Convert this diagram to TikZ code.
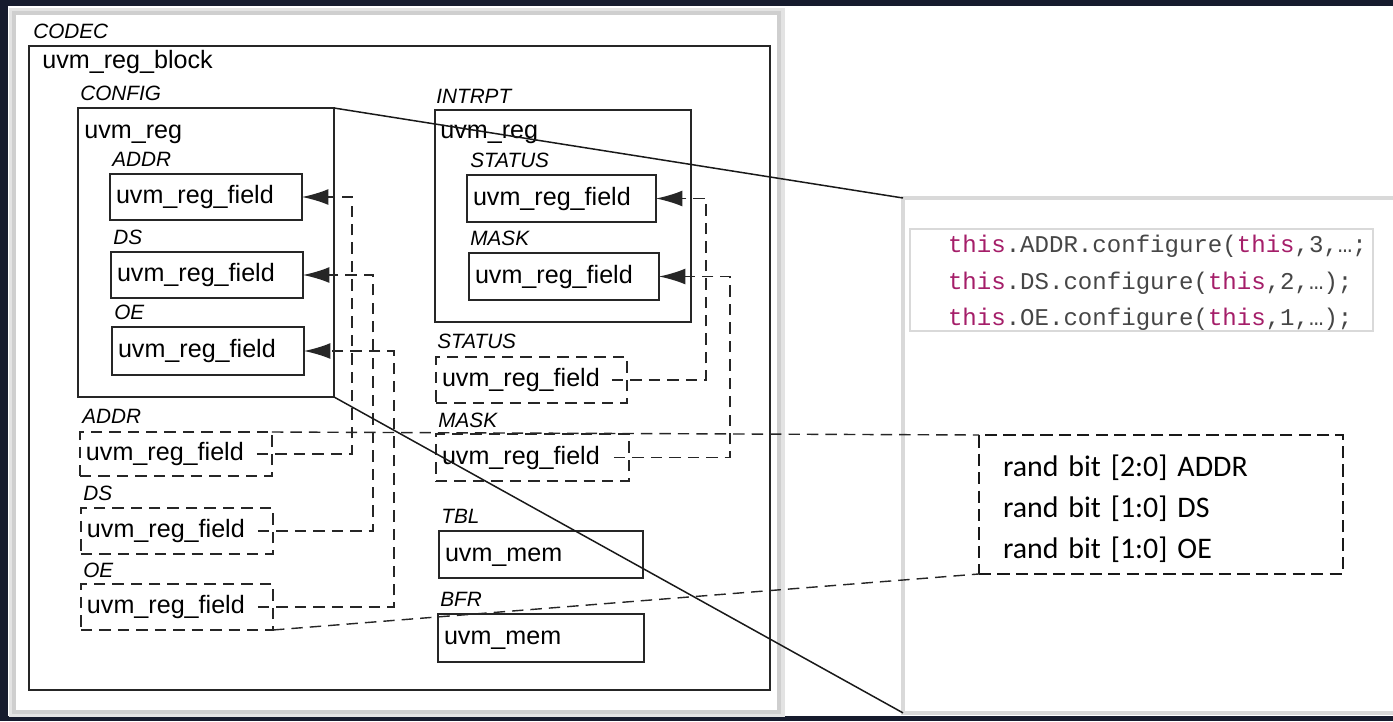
\documentclass[tikz,border=0pt]{standalone}
\usepackage{fontspec}
\setmainfont{Liberation Sans}
\newfontfamily\codefont{Liberation Mono}
\newfontfamily\randfont{Carlito}
\usetikzlibrary{arrows.meta,positioning}

\definecolor{slidebg}{RGB}{22,27,45}
\definecolor{kwpink}{RGB}{165,30,105}
\definecolor{codegray}{RGB}{70,70,70}

\newcommand\boxfont{\fontsize{14.3}{17}\selectfont}
\newcommand\tagfont{\fontsize{11.8}{14}\selectfont\itshape}

\tikzset{
  cont/.style={draw=black!85, line width=0.75pt, anchor=north west, inner sep=0pt, outer sep=0pt},
  box/.style={draw=black!85, line width=0.75pt, anchor=north west, inner xsep=0.12cm, inner ysep=0pt,
    outer sep=0pt, align=left, font=\boxfont, text height=10.5pt, text depth=3pt},
  fld/.style={box, text width=3.60cm, minimum height=0.92cm},
  dfld/.style={fld, dash pattern=on 6.5pt off 4pt},
  mem/.style={box, text width=3.88cm, minimum height=0.94cm},
  tag/.style={anchor=base west, inner sep=0pt, font=\tagfont},
  typename/.style={anchor=base west, inner sep=0pt, font=\boxfont},
  conn/.style={draw=black!85, line width=0.8pt, dash pattern=on 6.5pt off 4pt},
  tip/.style={-{Latex[length=15pt, width=9pt]}},
  link/.style={draw=black!90, line width=0.85pt},
  panel/.style={fill=white, draw=gray!30, line width=0.08cm, anchor=north west, inner sep=0pt, outer sep=0pt}
}

\begin{document}
\begin{tikzpicture}[x=0.02cm, y=-0.02cm]
  \useasboundingbox (0,0) rectangle (1393,721);

  % Hintergrund und linke Folie
  \fill[slidebg] (0,0) rectangle (1393,721);
  \fill[white] (8,6) rectangle (1393,716);
  \fill[gray!22] (9,8) rectangle (785,717);
  \fill[gray!38] (12,11) rectangle (781,714);
  \fill[white] (16,15) rectangle (777,710);

  % rechte Folie
  \node[panel, minimum width=10cm, minimum height=10.3cm] (detail) at (903,198) {};

  % Registerblock
  \node[tag] (codec) at (33,38) {CODEC};
  \node[cont, minimum width=14.82cm, minimum height=12.88cm] (blk) at (29,46) {};
  \node[typename] (blktype) at (42,68) {uvm\_reg\_block};

  % CONFIG
  \node[cont, minimum width=5.12cm, minimum height=5.78cm] (cfg) at (78,108) {};
  \node[tag] (cfgname) at ([xshift=0.04cm, yshift=0.16cm]cfg.north west) {CONFIG};
  \node[typename] (cfgtype) at (84,138) {uvm\_reg};
  \node[fld] (fA) at (110,174) {uvm\_reg\_field};
  \node[tag] (fAname) at ([xshift=0.04cm, yshift=0.16cm]fA.north west) {ADDR};
  \node[fld] (fD) at (111,252) {uvm\_reg\_field};
  \node[tag] (fDname) at ([xshift=0.04cm, yshift=0.16cm]fD.north west) {DS};
  \node[fld, minimum height=0.96cm] (fO) at (112,327) {uvm\_reg\_field};
  \node[tag] (fOname) at ([xshift=0.04cm, yshift=0.16cm]fO.north west) {OE};

  % Felder im Block
  \node[dfld, minimum height=0.88cm] (dA) at (80,432) {uvm\_reg\_field};
  \node[tag] (dAname) at ([xshift=0.04cm, yshift=0.18cm]dA.north west) {ADDR};
  \node[dfld] (dD) at (81,508) {uvm\_reg\_field};
  \node[tag] (dDname) at ([xshift=0.04cm, yshift=0.16cm]dD.north west) {DS};
  \node[dfld] (dO) at (81,584) {uvm\_reg\_field};
  \node[tag] (dOname) at ([xshift=0.04cm, yshift=0.14cm]dO.north west) {OE};

  % INTRPT
  \node[cont, minimum width=5.12cm, minimum height=4.24cm] (irq) at (435,110) {};
  \node[tag] (irqname) at ([xshift=0.02cm, yshift=0.14cm]irq.north west) {INTRPT};
  \node[typename] (irqtype) at (440,138) {uvm\_reg};
  \node[fld, text width=3.54cm, minimum height=0.94cm] (fS) at (467,175) {uvm\_reg\_field};
  \node[tag] (fSname) at ([xshift=0.06cm, yshift=0.16cm]fS.north west) {STATUS};
  \node[fld, text width=3.56cm, minimum height=0.94cm] (fM) at (469,253) {uvm\_reg\_field};
  \node[tag] (fMname) at ([xshift=0.02cm, yshift=0.16cm]fM.north west) {MASK};

  \node[dfld, text width=3.58cm] (dS) at (436,357) {uvm\_reg\_field};
  \node[tag] (dSname) at ([xshift=0.02cm, yshift=0.18cm]dS.north west) {STATUS};
  \node[dfld, text width=3.62cm, minimum height=0.94cm] (dM) at (436,434) {uvm\_reg\_field};
  \node[tag] (dMname) at ([xshift=0.04cm, yshift=0.14cm]dM.north west) {MASK};

  % Speicher
  \node[mem, text width=3.84cm] (tbl) at (439,531) {uvm\_mem};
  \node[tag] (tblname) at ([xshift=0.04cm, yshift=0.16cm]tbl.north west) {TBL};
  \node[mem, minimum height=0.96cm] (bfr) at (438,614) {uvm\_mem};
  \node[tag] (bfrname) at ([xshift=0.04cm, yshift=0.16cm]bfr.north west) {BFR};

  % Verbindungen Feld -> Register
  \draw[conn, tip] (dA.east) ++(-15,0) -- ++(95,0) |- (fA.east);
  \draw[conn, tip] (dD.east) ++(-15,0) -- ++(115,0) |- (fD.east);
  \draw[conn, tip] (dO.east) ++(-15,0) -- ++(136,0) |- (fO.east);
  \draw[conn, tip] (dS.east) ++(-15,0) -- ++(94,0) |- (fS.east);
  \draw[conn, tip] (dM.east) ++(-15,0) -- ++(116,0) |- (fM.east);

  % Code
  \node[draw=gray!30, line width=0.8pt, anchor=north west, minimum width=9.26cm, minimum height=2.04cm,
    text width=7.74cm, inner xsep=0.76cm, inner ysep=0pt, outer sep=0pt, align=left,
    font=\codefont\fontsize{13.7}{20.7}\selectfont, text=codegray] (code) at (910,229)
    {\rule{0pt}{13.5pt}\textcolor{kwpink}{this}.ADDR.configure(\textcolor{kwpink}{this},3,…;\\
     \textcolor{kwpink}{this}.DS.configure(\textcolor{kwpink}{this},2,…);\\
     \textcolor{kwpink}{this}.OE.configure(\textcolor{kwpink}{this},1,…);};

  % Felder in der Klasse
  \node[draw=black!90, line width=1pt, dash pattern=on 7pt off 3.5pt, anchor=north west,
    minimum width=7.28cm, minimum height=2.78cm, text width=6.32cm, inner xsep=0.48cm, inner ysep=0pt,
    outer sep=0pt, align=left, font=\randfont\fontsize{17}{23.2}\selectfont] (rnd) at (979,435)
    {\rule{0pt}{17pt}rand bit [2:0] ADDR\\rand bit [1:0] DS\\rand bit [1:0] OE};

  % Zoomlinien
  \draw[link] (cfg.north east) -- (detail.north west);
  \draw[link] (cfg.south east) -- (detail.south west);
  \draw[conn] (dA.north east) -- (rnd.north west);
  \draw[conn] (dO.south east) -- (rnd.south west);
\end{tikzpicture}
\end{document}
